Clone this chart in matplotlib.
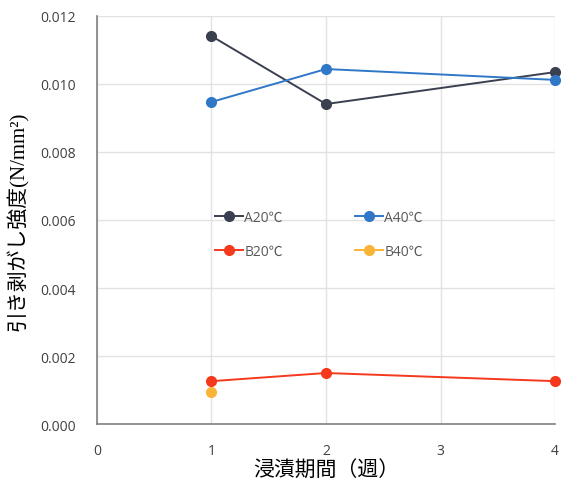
import matplotlib.pyplot as plt

plt.rcParams['font.family'] = ['Open Sans', 'Noto Sans CJK JP', 'DejaVu Sans']

weeks = [1, 2, 4]
a20 = [0.01141, 0.00941, 0.01035]
a40 = [0.00947, 0.01044, 0.01012]
b20 = [0.00126, 0.00150, 0.00126]
b40_weeks = [1]
b40 = [0.00094]

xticks = [0, 1, 2, 3, 4]
yticks = [0.000, 0.002, 0.004, 0.006, 0.008, 0.010, 0.012]

fig = plt.figure(figsize=(5.63, 4.81), dpi=100)
ax = fig.add_axes([0.172, 0.1164, 0.814, 0.8483])

l1, = ax.plot(weeks, a20, color='#3b4050', marker='o', ms=7, lw=1.4, label='A20℃')
l3, = ax.plot(weeks, a40, color='#2f78c8', marker='o', ms=7, lw=1.4, label='A40℃')
l2, = ax.plot(weeks, b20, color='#f5391c', marker='o', ms=7, lw=1.4, label='B20℃')
l4, = ax.plot(b40_weeks, b40, color='#fbb436', marker='o', ms=7, lw=1.4, label='B40℃')

ax.set_xlim(0, 4)
ax.set_ylim(0, 0.012)
ax.set_xticks(xticks)
ax.set_yticks(yticks)
ax.set_yticklabels([f'{v:.3f}' for v in yticks])
ax.tick_params(length=0, labelsize=10, colors='#404040')
ax.tick_params(axis='y', pad=15)
ax.tick_params(axis='x', pad=14)
ax.grid(True, color='#e2e2e2', lw=1)
ax.set_axisbelow(True)
for s in ['top', 'right']:
    ax.spines[s].set_visible(False)
for s in ['left', 'bottom']:
    ax.spines[s].set_color('#808080')
    ax.spines[s].set_linewidth(1.2)
for l in [l1, l2, l3, l4]:
    l.set_clip_on(False)

ax.legend(handles=[l1, l2, l3, l4], ncol=2, loc='center', bbox_to_anchor=(0.485, 0.465),
          frameon=False, fontsize=10, handlelength=2.0, handletextpad=0.1,
          columnspacing=5.2, labelspacing=1.4, labelcolor='#595959')

ax.set_ylabel('引き剥がし強度(N/mm²)', fontsize=15,
              family=['Liberation Serif', 'Noto Sans CJK JP'], labelpad=8)
ax.set_xlabel('浸漬期間（週）', fontsize=15, family=['Noto Sans CJK JP'], labelpad=0)

fig.savefig('out.png', dpi=100)
